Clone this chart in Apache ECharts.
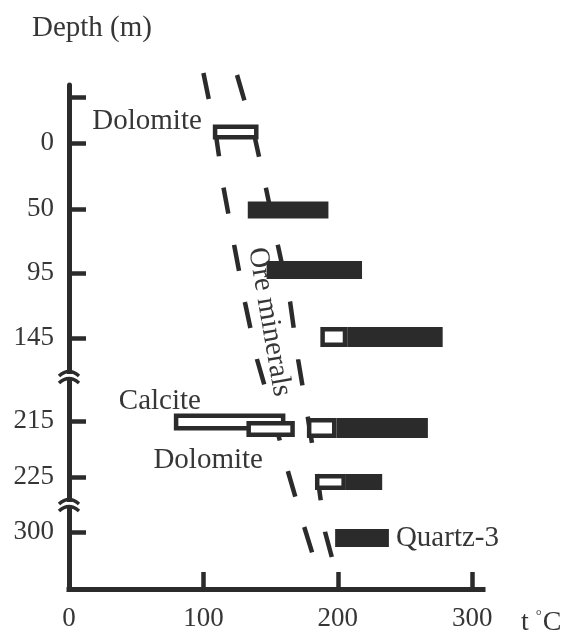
<!DOCTYPE html>
<html><head><meta charset="utf-8">
<script src="https://cdn.jsdelivr.net/npm/echarts@6/dist/echarts.min.js"></script>
<style>html,body{margin:0;padding:0;background:#fff}#c{width:563px;height:635px}</style>
</head><body><div id="c"></div>
<script>
// ---------------- data ----------------
const depthLabels = ['0', '50', '95', '145', '215', '225', '300'];
// filled bars: ore minerals / quartz-3 temperature ranges (°C)
const oreDepth = ['50', '95', '145', '215', '225', '300'];
const oreMin   = [133, 147, 207, 199, 206, 198];
const oreMax   = [193, 218, 278, 267, 233, 238];
const oreName  = ['', '', '', '', '', 'Quartz-3'];
// hollow bars: carbonates and early stage (°C)
const hollowDepth = ['0', '145', '215', '215', '215', '225'];
const hollowMin   = [107, 187, 78, 132, 177, 183];
const hollowMax   = [141, 207, 161, 168, 199, 206];
const hollowName  = ['Dolomite', '', 'Calcite', 'Dolomite', '', ''];
// dashed boundaries of the "Ore minerals" band (°C)
const bandLeftT  = [100, 109, 115, 123, 131, 140, 152, 163, 175, 181];
const bandRightT = [125, 137.5, 146.5, 155.5, 164.5, 170.5, 177.5, 185, 190.5, 195.5];
const xTickLabels = [0, 100, 200, 300];
const xTickMarks  = [100, 200, 300];

// ---------------- layout (position along the broken depth axis) ----------------
const tickPos = {'0': 58, '50': 124, '95': 188, '145': 253, '215': 336, '225': 392, '300': 447};
const topTickPos = 12;
const barPos = {'0': 47, '50': 125, '95': 185, '145': 252, '215': 343, '225': 397, '300': 453};
const hollowShift = [0, 0, -6, 1, 0, 0];
const hollowH = [15, 20, 17, 16, 20, 16];
const oreH = [17, 18, 20, 20, 16, 18];
const bandLeftPos  = [-12, 47, 103, 161, 218, 275, 331, 387, 442, 468];
const bandRightPos = [-10, 48, 103, 161, 217, 275, 331, 393, 447, 472];
const breakPos = [293, 421];
// label placement: [anchor ('start'|'end'), dx, dy, align]
const hollowLabelPlace = [['start', -11, -11, 'right'], null, ['start', -55, -21, 'left'], ['start', -93, 31, 'left'], null, null];
const oreLabelPlace = [null, null, null, null, null, ['end', 7, 0, 'left']];
const oreTextAt = [149, 237];

const INK = '#2b2b2b';
const TXT = '#363636';
const FONT = 'Liberation Serif';
const BORDER = 4.5;

const chart = echarts.init(document.getElementById('c'), null, {renderer: 'canvas'});

function labelEl(api, place, name, x0, x1, cy) {
  if (!place || !name) return null;
  const ax = place[0] === 'start' ? x0 : x1;
  return {
    type: 'text',
    style: {
      text: name, x: ax + place[1], y: cy + place[2],
      align: place[3], verticalAlign: 'middle',
      fontFamily: FONT, fontSize: 29, fill: TXT
    }
  };
}

const hollowData = hollowMin.map((m, i) => [m, hollowMax[i], barPos[hollowDepth[i]] + hollowShift[i]]);
const oreData = oreMin.map((m, i) => [m, oreMax[i], barPos[oreDepth[i]]]);
const posToLabel = {};
depthLabels.forEach(d => { posToLabel[tickPos[d]] = d; });

const option = {
  backgroundColor: '#fff',
  animation: false,
  title: [
    {text: 'Depth (m)', left: 27, top: 9,
     textStyle: {fontFamily: FONT, fontSize: 29, fontWeight: 'normal', color: TXT}},
    {text: '{a|t }{b|°}{a|C}', left: 516, top: 604,
     textStyle: {fontWeight: 'normal', rich: {
       a: {fontFamily: FONT, fontSize: 28, fontWeight: 'normal', color: TXT, verticalAlign: 'bottom'},
       b: {fontFamily: FONT, fontSize: 15, fontWeight: 'normal', color: TXT, verticalAlign: 'top', padding: [0, 1, 12, 0]}
     }}}
  ],
  grid: {left: 69, right: 80, top: 85, bottom: 46, containLabel: false},
  xAxis: {
    type: 'value', min: 0, max: 308,
    axisLine: {show: true, onZero: false, lineStyle: {color: INK, width: 5, cap: 'square'}},
    axisTick: {show: true, inside: true, length: 17, customValues: xTickMarks, lineStyle: {color: INK, width: 4.5}},
    axisLabel: {show: true, customValues: xTickLabels, margin: 16, fontFamily: FONT, fontSize: 27, color: TXT},
    splitLine: {show: false}
  },
  yAxis: {
    type: 'value', inverse: true, min: 0, max: 504,
    axisLine: {show: true, onZero: false, lineStyle: {color: INK, width: 5}},
    axisTick: {show: true, inside: true, length: 17,
      customValues: [topTickPos].concat(depthLabels.map(d => tickPos[d])),
      lineStyle: {color: INK, width: 4.5}},
    axisLabel: {show: true, customValues: depthLabels.map(d => tickPos[d]),
      formatter: v => (posToLabel[v] !== undefined ? posToLabel[v] : ''),
      margin: 15, fontFamily: FONT, fontSize: 27, color: TXT},
    splitLine: {show: false}
  },
  series: [
    {
      type: 'line', name: 'band-left', clip: false, symbol: 'none', z: 1,
      data: bandLeftT.map((t, i) => [t, bandLeftPos[i]]),
      lineStyle: {color: INK, width: 4.5, type: [26.5, 31.7], cap: 'butt'}
    },
    {
      type: 'line', name: 'band-right', clip: false, symbol: 'none', z: 1,
      data: bandRightT.map((t, i) => [t, bandRightPos[i]]),
      lineStyle: {color: INK, width: 4.5, type: [26.5, 31.7], cap: 'butt'}
    },
    {
      type: 'custom', name: 'hollow', z: 3, clip: false,
      encode: {x: [0, 1], y: 2},
      data: hollowData,
      renderItem: function (params, api) {
        const i = params.dataIndex;
        const cy = api.value(2);
        const p0 = api.coord([api.value(0), cy]);
        const p1 = api.coord([api.value(1), cy]);
        const h = hollowH[i];
        const hb = BORDER / 2;
        const children = [{
          type: 'rect',
          shape: {x: p0[0] + hb, y: p0[1] - h / 2 + hb, width: p1[0] - p0[0] - BORDER, height: h - BORDER},
          style: {fill: '#fff', stroke: INK, lineWidth: BORDER}
        }];
        const t = labelEl(api, hollowLabelPlace[i], hollowName[i], p0[0], p1[0], p0[1]);
        if (t) children.push(t);
        return {type: 'group', children: children};
      }
    },
    {
      type: 'custom', name: 'ore', z: 4, clip: false,
      encode: {x: [0, 1], y: 2},
      data: oreData,
      renderItem: function (params, api) {
        const i = params.dataIndex;
        const cy = api.value(2);
        const p0 = api.coord([api.value(0), cy]);
        const p1 = api.coord([api.value(1), cy]);
        const h = oreH[i];
        const children = [{
          type: 'rect',
          shape: {x: p0[0], y: p0[1] - h / 2, width: p1[0] - p0[0], height: h},
          style: {fill: INK}
        }];
        const t = labelEl(api, oreLabelPlace[i], oreName[i], p0[0], p1[0], p0[1]);
        if (t) children.push(t);
        return {type: 'group', children: children};
      }
    },
    {
      type: 'custom', name: 'annotations', z: 5, clip: false,
      encode: {x: 0, y: 1},
      data: [[oreTextAt[0], oreTextAt[1]]],
      renderItem: function (params, api) {
        const children = [];
        const c = api.coord([api.value(0), api.value(1)]);
        children.push({
          type: 'text', x: c[0], y: c[1], rotation: -1.40,
          style: {text: 'Ore minerals', x: 0, y: 0, align: 'center', verticalAlign: 'middle',
                  fontFamily: FONT, fontSize: 29, fill: TXT}
        });
        breakPos.forEach(function (bp) {
          const b = api.coord([0, bp]);
          const x = b[0], y = b[1];
          children.push({type: 'rect', shape: {x: x - 4, y: y - 4, width: 8, height: 6}, style: {fill: '#fff'}});
          children.push({type: 'bezierCurve',
            shape: {x1: x - 10, y1: y - 2, cpx1: x, cpy1: y - 11, x2: x + 10, y2: y - 2},
            style: {stroke: INK, lineWidth: 3.5, fill: 'none'}});
          children.push({type: 'bezierCurve',
            shape: {x1: x - 10, y1: y + 5, cpx1: x, cpy1: y - 4, x2: x + 10, y2: y + 5},
            style: {stroke: INK, lineWidth: 3.5, fill: 'none'}});
        });
        return {type: 'group', children: children};
      }
    }
  ]
};
chart.setOption(option);
</script>
</body></html>
